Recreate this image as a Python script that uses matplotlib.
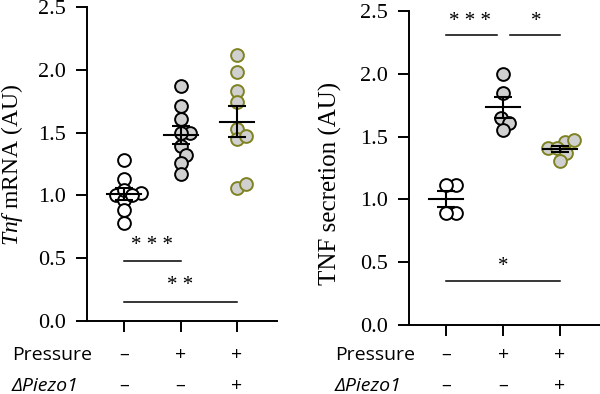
import numpy as np
import matplotlib
matplotlib.use('Agg')
import matplotlib.pyplot as plt
import matplotlib.transforms as mtransforms

plt.rcParams['font.family'] = 'Liberation Serif'
plt.rcParams['mathtext.fontset'] = 'custom'
plt.rcParams['mathtext.rm'] = 'Liberation Serif'
plt.rcParams['mathtext.it'] = 'Liberation Serif:italic'

# data
mrna_ctrl = [1.28, 1.13, 1.00, 0.96, 1.02, 1.04, 1.00, 0.88, 0.78]
mrna_press = [1.87, 1.71, 1.61, 1.50, 1.50, 1.39, 1.32, 1.26, 1.17]
mrna_piezo = [2.12, 1.98, 1.83, 1.74, 1.53, 1.45, 1.47, 1.06, 1.09]

tnf_ctrl = [1.115, 1.115, 0.89, 0.89]
tnf_press = [2.00, 1.85, 1.65, 1.61, 1.55]
tnf_piezo = [1.46, 1.47, 1.41, 1.41, 1.37, 1.31]

pressure_row = ['–', '+', '+']
piezo_row = ['–', '–', '+']

gray = '#d0d0d0'
olive = '#7f8220'


def swarm(ax, x0, vals, d=9.5):
    # simple beeswarm in pixel space
    vals = np.asarray(vals, dtype=float)
    pts = ax.transData.transform(np.column_stack([np.full(len(vals), x0), vals]))
    order = np.argsort(vals)
    placed = []
    xs = np.zeros(len(vals))
    for i in order:
        px, py = pts[i]
        cands = [0.0]
        for qx, qy in placed:
            dy = py - qy
            if abs(dy) < d:
                dx = np.sqrt(d**2 - dy**2)
                cands += [qx + dx, qx - dx]
        cands = sorted(cands, key=abs)
        for c in cands:
            ok = all((c - qx)**2 + (py - qy)**2 >= d**2 - 1e-6 for qx, qy in placed)
            if ok:
                break
        placed.append((c, py))
        xs[i] = ax.transData.inverted().transform((px + c, py))[0]
    return xs


def panel(ax, groups, ylabel, lsize):
    ax.set_xlim(-0.66, 2.71)
    ax.set_ylim(0, 2.5)
    for k, (vals, face, edge) in enumerate(groups):
        xs = swarm(ax, k, vals)
        ax.plot(xs, vals, 'o', ms=9.2, mfc=face, mec=edge, mew=1.4, zorder=2, clip_on=False)
        m = np.mean(vals)
        sem = np.std(vals, ddof=1) / np.sqrt(len(vals))
        ax.plot([k - 0.3, k + 0.3], [m, m], color='black', lw=1.5, zorder=3)
        ax.errorbar(k, m, yerr=sem, color='black', lw=1.5, capsize=6.5, capthick=1.5, zorder=3)
    for s in ['top', 'right']:
        ax.spines[s].set_visible(False)
    ax.spines['left'].set_linewidth(1.4)
    ax.spines['bottom'].set_linewidth(1.4)
    ax.set_yticks(np.arange(0, 2.51, 0.5))
    ax.set_yticklabels(['%.1f' % v for v in np.arange(0, 2.51, 0.5)])
    ax.set_xticks([0, 1, 2])
    ax.set_xticklabels([])
    ax.tick_params(axis='both', width=1.4, length=8, labelsize=16, pad=7)
    ax.set_ylabel(ylabel, fontsize=lsize)
    # signs below the axis
    tr = mtransforms.blended_transform_factory(ax.transData, fig.transFigure)
    for k in range(3):
        ax.text(k, 1 - 355 / 394, pressure_row[k], transform=tr, ha='center', va='center',
                fontsize=14, family='Open Sans')
        ax.text(k, 1 - 386 / 394, piezo_row[k], transform=tr, ha='center', va='center',
                fontsize=14, family='Open Sans')


def sig(ax, x1, x2, y, label, xt, yt):
    ax.plot([x1, x2], [y, y], color='black', lw=1.1, clip_on=False)
    ax.text(xt, yt, label, ha='center', va='center', fontsize=15)


fig = plt.figure(figsize=(6, 3.94), dpi=100)
ax1 = fig.add_axes([0.145, 0.1853, 0.3167, 0.797])
ax2 = fig.add_axes([0.6817, 0.175, 0.3183, 0.797])

panel(ax1, [(mrna_ctrl, 'white', 'black'), (mrna_press, gray, 'black'), (mrna_piezo, gray, olive)],
      r'$\mathit{Tnf}$ mRNA (AU)', 17)
panel(ax2, [(tnf_ctrl, 'white', 'black'), (tnf_press, gray, 'black'), (tnf_piezo, gray, olive)],
      'TNF secretion (AU)', 18)
ax1.yaxis.set_label_coords(-0.325, 0.497)
ax2.yaxis.set_label_coords(-0.35, 0.45)

sig(ax1, 0, 1, 0.48, '* * *', 0.5, 0.6)
sig(ax1, 0, 2, 0.155, '* *', 1, 0.28)
sig(ax2, 0, 0.885, 2.31, '* * *', 0.42, 2.42)
sig(ax2, 1.115, 2, 2.31, '*', 1.58, 2.42)
sig(ax2, 0, 2, 0.35, '*', 1, 0.47)

fig.text(12 / 600, 1 - 355 / 394, 'Pressure', ha='left', va='center', fontsize=14, family='Open Sans')
fig.text(12 / 600, 1 - 386 / 394, 'ΔPiezo1', ha='left', va='center', fontsize=14, family='Open Sans',
         style='italic')
fig.text(335 / 600, 1 - 355 / 394, 'Pressure', ha='left', va='center', fontsize=14, family='Open Sans')
fig.text(335 / 600, 1 - 386 / 394, 'ΔPiezo1', ha='left', va='center', fontsize=14, family='Open Sans',
         style='italic')

fig.savefig('out.png', dpi=100)
